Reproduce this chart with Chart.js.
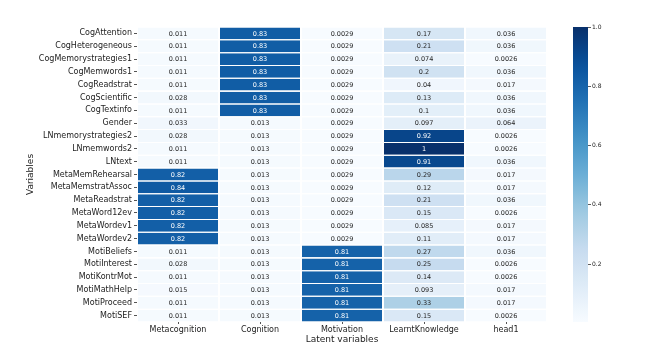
<!DOCTYPE html>
<html>
<head>
<meta charset="utf-8">
<script src="https://cdn.jsdelivr.net/npm/chart.js@4.4.1/dist/chart.umd.min.js"></script>
<style>
  body { margin: 0; background: #fff; }
  #wrap { width: 650px; height: 364px; }
</style>
</head>
<body>
<div id="wrap"><canvas id="heat" width="650" height="364"></canvas></div>
<script>
const variables = ['CogAttention', 'CogHeterogeneous', 'CogMemorystrategies1', 'CogMemwords1', 'CogReadstrat',
  'CogScientific', 'CogTextinfo', 'Gender', 'LNmemorystrategies2', 'LNmemwords2', 'LNtext',
  'MetaMemRehearsal', 'MetaMemstratAssoc', 'MetaReadstrat', 'MetaWord12ev', 'MetaWordev1', 'MetaWordev2',
  'MotiBeliefs', 'MotiInterest', 'MotiKontrMot', 'MotiMathHelp', 'MotiProceed', 'MotiSEF'];

const latent = ['Metacognition', 'Cognition', 'Motivation', 'LearntKnowledge', 'head1'];

const metacognition = [0.011, 0.011, 0.011, 0.011, 0.011, 0.028, 0.011, 0.033, 0.028, 0.011, 0.011,
  0.82, 0.84, 0.82, 0.82, 0.82, 0.82, 0.011, 0.028, 0.011, 0.015, 0.011, 0.011];
const cognition = [0.83, 0.83, 0.83, 0.83, 0.83, 0.83, 0.83, 0.013, 0.013, 0.013, 0.013,
  0.013, 0.013, 0.013, 0.013, 0.013, 0.013, 0.013, 0.013, 0.013, 0.013, 0.013, 0.013];
const motivation = [0.0029, 0.0029, 0.0029, 0.0029, 0.0029, 0.0029, 0.0029, 0.0029, 0.0029, 0.0029, 0.0029,
  0.0029, 0.0029, 0.0029, 0.0029, 0.0029, 0.0029, 0.81, 0.81, 0.81, 0.81, 0.81, 0.81];
const learntKnowledge = [0.17, 0.21, 0.074, 0.2, 0.04, 0.13, 0.1, 0.097, 0.92, 1, 0.91,
  0.29, 0.12, 0.21, 0.15, 0.085, 0.11, 0.27, 0.25, 0.14, 0.093, 0.33, 0.15];
const head1 = [0.036, 0.036, 0.0026, 0.036, 0.017, 0.036, 0.036, 0.064, 0.0026, 0.0026, 0.036,
  0.017, 0.017, 0.036, 0.0026, 0.017, 0.017, 0.036, 0.0026, 0.0026, 0.017, 0.017, 0.0026];

const columns = [metacognition, cognition, motivation, learntKnowledge, head1];
const colorbarTicks = [0.2, 0.4, 0.6, 0.8, 1.0];

const vmin = Math.min(...columns.flat());
const vmax = Math.max(...columns.flat());

// matplotlib "Blues"
const bluesStops = ['#f7fbff', '#deebf7', '#c6dbef', '#9ecae1', '#6baed6', '#4292c6', '#2171b5', '#08519c', '#08306b'];

function hexToRgb(h) {
  return [parseInt(h.slice(1, 3), 16), parseInt(h.slice(3, 5), 16), parseInt(h.slice(5, 7), 16)];
}

function bluesRgb(t) {
  t = Math.max(0, Math.min(1, t));
  const pos = t * (bluesStops.length - 1);
  const i = Math.min(Math.floor(pos), bluesStops.length - 2);
  const f = pos - i;
  const a = hexToRgb(bluesStops[i]);
  const b = hexToRgb(bluesStops[i + 1]);
  return a.map((c, k) => Math.round(c + (b[k] - c) * f));
}

function cellRgb(v) {
  return bluesRgb((v - vmin) / (vmax - vmin));
}

function textColorFor(v) {
  const rgb = cellRgb(v).map(c => {
    c = c / 255;
    return c <= 0.03928 ? c / 12.92 : Math.pow((c + 0.055) / 1.055, 2.4);
  });
  const lum = 0.2126 * rgb[0] + 0.7152 * rgb[1] + 0.0722 * rgb[2];
  return lum > 0.408 ? '#262626' : '#ffffff';
}

const datasets = columns.map((col, i) => ({
  label: latent[i],
  data: col.map(() => 1),
  values: col,
  backgroundColor: col.map(v => 'rgb(' + cellRgb(v).join(',') + ')'),
  borderColor: '#ffffff',
  borderWidth: { left: 1, right: 1, top: 0, bottom: 0 },
  borderSkipped: false,
  barPercentage: 1,
  categoryPercentage: 0.92,
}));

const annotatePlugin = {
  id: 'annotate',
  afterDatasetsDraw(chart) {
    const ctx = chart.ctx;
    ctx.save();
    ctx.font = '6.5px "DejaVu Sans"';
    ctx.textAlign = 'center';
    ctx.textBaseline = 'middle';
    chart.data.datasets.forEach((ds, i) => {
      chart.getDatasetMeta(i).data.forEach((bar, j) => {
        const v = ds.values[j];
        const p = bar.getCenterPoint();
        ctx.fillStyle = textColorFor(v);
        ctx.fillText(String(v), p.x, p.y + 0.5);
      });
    });
    ctx.restore();
  }
};

// colour bar to the right of the heatmap, same height as the plot area
const colorbarPlugin = {
  id: 'colorbar',
  afterDraw(chart) {
    const area = chart.chartArea;
    const ctx = chart.ctx;
    const x0 = area.right + 26;
    const w = 15;
    const toY = v => area.bottom - (v - vmin) / (vmax - vmin) * (area.bottom - area.top);
    const grad = ctx.createLinearGradient(0, area.bottom, 0, area.top);
    for (let k = 0; k <= 20; k++) {
      grad.addColorStop(k / 20, 'rgb(' + bluesRgb(k / 20).join(',') + ')');
    }
    ctx.save();
    ctx.fillStyle = grad;
    ctx.fillRect(x0, area.top, w, area.bottom - area.top);
    ctx.strokeStyle = '#333';
    ctx.lineWidth = 0.8;
    ctx.fillStyle = '#222';
    ctx.font = '6px "DejaVu Sans"';
    ctx.textAlign = 'left';
    ctx.textBaseline = 'middle';
    colorbarTicks.forEach(v => {
      const y = Math.round(toY(v)) + 0.5;
      ctx.beginPath();
      ctx.moveTo(x0 + w, y);
      ctx.lineTo(x0 + w + 3, y);
      ctx.stroke();
      ctx.fillText(v.toFixed(1), x0 + w + 4, y);
    });
    ctx.restore();
  }
};

new Chart(document.getElementById('heat'), {
  type: 'bar',
  data: { labels: variables, datasets: datasets },
  options: {
    indexAxis: 'y',
    responsive: false,
    animation: false,
    devicePixelRatio: 1,
    layout: { padding: { top: 27, left: 0, right: 103, bottom: 0 } },
    plugins: {
      legend: { display: false },
      tooltip: { enabled: false },
    },
    scales: {
      x: { type: 'linear', display: false, stacked: true, min: 0, max: latent.length },
      xc: {
        type: 'category',
        position: 'bottom',
        labels: latent,
        offset: true,
        grid: { drawOnChartArea: false, drawTicks: true, tickLength: 2, offset: false, color: '#555' },
        border: { display: false },
        ticks: { color: '#222', font: { size: 8, family: 'DejaVu Sans' }, padding: 1 },
        title: { display: true, text: 'Latent variables', color: '#222', font: { size: 9, family: 'DejaVu Sans' },
          padding: { top: 0, bottom: 19 } },
        afterFit(s) { s.height = 42; },
      },
      y: {
        type: 'category',
        stacked: true,
        grid: { drawOnChartArea: false, drawTicks: true, tickLength: 3, offset: false, color: '#555' },
        border: { display: false },
        ticks: { color: '#222', font: { size: 8, family: 'DejaVu Sans' }, padding: 2, autoSkip: false },
        title: { display: true, text: 'Variables', color: '#222', font: { size: 9, family: 'DejaVu Sans' },
          padding: { top: 25, bottom: 0 } },
        afterFit(s) { s.width = 137; },
      },
    },
  },
  plugins: [annotatePlugin, colorbarPlugin],
});
</script>
</body>
</html>
